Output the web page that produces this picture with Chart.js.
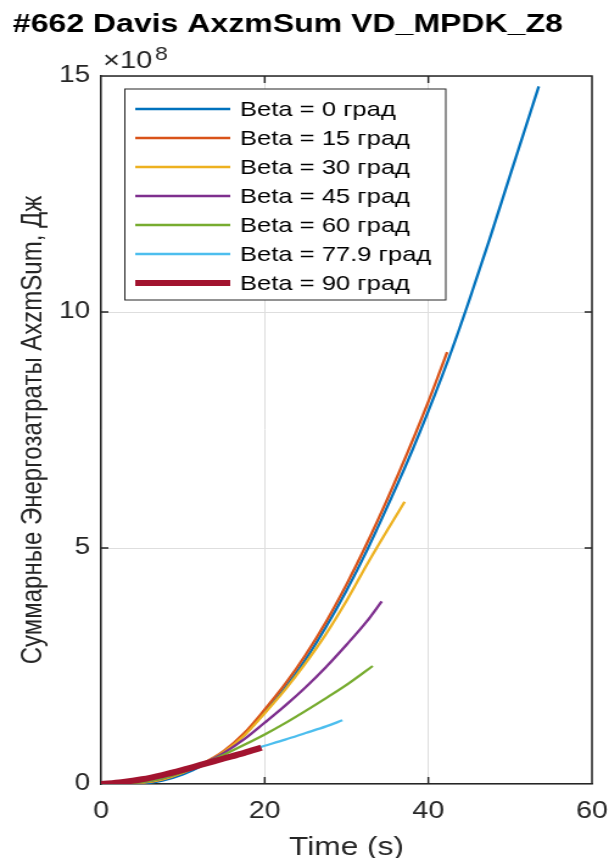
<!DOCTYPE html>
<html>
<head>
<meta charset="utf-8">
<script src="https://cdn.jsdelivr.net/npm/chart.js@4/dist/chart.umd.min.js"></script>
<style>
  html, body { margin: 0; padding: 0; background: #fff; }
</style>
</head>
<body>
<!-- the source picture is stretched sideways, so the canvas is drawn narrower and shown at 609px -->
<canvas id="chart" width="500" height="858" style="display:block;width:609px;height:858px"></canvas>
<script>
// energy in units of 1e8 J, time in s
var labels = ['Beta = 0 град', 'Beta = 15 град', 'Beta = 30 град', 'Beta = 45 град', 'Beta = 60 град', 'Beta = 77.9 град', 'Beta = 90 град'];

var t0 = [0, 2.5, 5, 7.5, 10, 12.5, 15, 17.5, 20, 22.5, 25, 27.5, 30, 32.5, 35, 37.5, 40, 42.5, 45, 47.5, 50, 53.5];
var e0 = [0, 0.00, 0.01, 0.07, 0.2, 0.4, 0.66, 1.04, 1.52, 2.04, 2.64, 3.33, 4.1, 4.95, 5.88, 6.85, 7.9, 9.02, 10.25, 11.55, 12.9, 14.78];

var t15 = [0, 2.5, 5, 7.5, 10, 12.5, 15, 17.5, 20, 22.5, 25, 27.5, 30, 32.5, 35, 37.5, 40, 42.3];
var e15 = [0, 0.01, 0.03, 0.1, 0.24, 0.44, 0.7, 1.08, 1.58, 2.12, 2.74, 3.44, 4.23, 5.1, 6.04, 7.04, 8.1, 9.15];

var t30 = [0, 2.5, 5, 7.5, 10, 12.5, 15, 17.5, 20, 22.5, 25, 27.5, 30, 32.5, 35, 37.1];
var e30 = [0, 0.01, 0.03, 0.1, 0.24, 0.44, 0.68, 1.03, 1.5, 2.0, 2.56, 3.18, 3.88, 4.65, 5.38, 5.98];

var t45 = [0, 2.5, 5, 7.5, 10, 12.5, 15, 17.5, 20, 22.5, 25, 27.5, 30, 32.5, 34.3];
var e45 = [0, 0.01, 0.04, 0.12, 0.26, 0.44, 0.66, 0.95, 1.3, 1.66, 2.05, 2.48, 2.95, 3.45, 3.87];

var t60 = [0, 2.5, 5, 7.5, 10, 12.5, 15, 17.5, 20, 22.5, 25, 27.5, 30, 33.2];
var e60 = [0, 0.01, 0.04, 0.12, 0.25, 0.42, 0.62, 0.83, 1.05, 1.29, 1.55, 1.82, 2.1, 2.5];

var t78 = [0, 2.5, 5, 7.5, 10, 12.5, 15, 17.5, 20, 22.5, 25, 27.5, 29.5];
var e78 = [0, 0.02, 0.07, 0.15, 0.27, 0.41, 0.55, 0.68, 0.81, 0.94, 1.08, 1.22, 1.35];

var t90 = [0, 2.5, 5, 7.5, 10, 12.5, 15, 17.5, 19.6];
var e90 = [0, 0.04, 0.1, 0.19, 0.3, 0.42, 0.54, 0.66, 0.77];

var xTicks = [0, 20, 40, 60];
var yTicks = [0, 5, 10, 15];

var colors = ['#0072BD', '#D95319', '#EDB120', '#7E2F8E', '#77AC30', '#4DBEEE', '#A2142F'];
var FONT = '"Liberation Sans", Arial, sans-serif';
var INK = '#262626';

function pts(t, e) {
  return t.map(function(v, i) { return { x: v, y: e[i] }; });
}

var series = [[t0, e0], [t15, e15], [t30, e30], [t45, e45], [t60, e60], [t78, e78], [t90, e90]];
var datasets = series.map(function(s, i) {
  return {
    label: labels[i],
    data: pts(s[0], s[1]),
    borderColor: colors[i],
    borderWidth: i === 6 ? 6 : 2.3,
    pointRadius: 0,
    cubicInterpolationMode: 'monotone',
    order: 6 - i // later series on top, like matlab
  };
});

var decor = {
  id: 'decor',
  afterDraw: function(chart) {
    var ctx = chart.ctx, a = chart.chartArea;
    var sx = chart.scales.x, sy = chart.scales.y;
    ctx.save();

    // box top/right + inner ticks
    ctx.strokeStyle = INK;
    ctx.lineWidth = 1.5;
    ctx.beginPath();
    ctx.moveTo(a.left, a.top); ctx.lineTo(a.right, a.top); ctx.lineTo(a.right, a.bottom);
    xTicks.slice(1, -1).forEach(function(v) {
      var px = sx.getPixelForValue(v);
      ctx.moveTo(px, a.bottom); ctx.lineTo(px, a.bottom - 7);
      ctx.moveTo(px, a.top); ctx.lineTo(px, a.top + 7);
    });
    yTicks.slice(1, -1).forEach(function(v) {
      var py = sy.getPixelForValue(v);
      ctx.moveTo(a.left, py); ctx.lineTo(a.left + 6, py);
      ctx.moveTo(a.right, py); ctx.lineTo(a.right - 6, py);
    });
    ctx.stroke();

    // legend
    var lx = 102.5, ly = 89, lw = 263.5, lh = 211, row = 29;
    ctx.fillStyle = '#fff';
    ctx.fillRect(lx, ly, lw, lh);
    ctx.lineWidth = 1;
    ctx.strokeStyle = INK;
    ctx.strokeRect(lx, ly, lw, lh);
    ctx.font = '21px ' + FONT;
    ctx.textBaseline = 'middle';
    ctx.textAlign = 'left';
    chart.data.datasets.forEach(function(ds, i) {
      var cy = 109 + i * row;
      ctx.strokeStyle = ds.borderColor;
      ctx.lineWidth = ds.borderWidth;
      ctx.beginPath();
      ctx.moveTo(111, cy); ctx.lineTo(189, cy);
      ctx.stroke();
      ctx.fillStyle = '#000';
      ctx.fillText(ds.label, 197, cy + 1);
    });

    // title
    ctx.textBaseline = 'alphabetic';
    ctx.fillStyle = '#000';
    ctx.font = 'bold 26.3px ' + FONT;
    ctx.fillText('#662 Davis AxzmSum VD_MPDK_Z8', 10.5, 32);

    // exponent
    ctx.fillStyle = INK;
    ctx.font = '24px ' + FONT;
    ctx.fillText('\u00d710', 84.5, 68);
    var w = ctx.measureText('\u00d710').width;
    ctx.font = '19px ' + FONT;
    ctx.fillText('8', 84.5 + w + 2, 60);

    // axis titles
    ctx.font = '26px ' + FONT;
    ctx.textAlign = 'center';
    ctx.fillText('Time (s)', (a.left + a.right) / 2, 855);
    ctx.translate(34, (a.top + a.bottom) / 2);
    ctx.rotate(-Math.PI / 2);
    ctx.font = '24px ' + FONT;
    ctx.fillText('Суммарные Энергозатраты AxzmSum, Дж', 0, 0);
    ctx.restore();
  }
};

var ctx = document.getElementById('chart').getContext('2d');
var chart = new Chart(ctx, {
  type: 'line',
  data: { datasets: datasets },
  plugins: [decor],
  options: {
    responsive: false,
    devicePixelRatio: 1,
    animation: false,
    layout: { padding: { top: 76, right: 14, left: 0, bottom: 0 } },
    plugins: { legend: { display: false }, tooltip: { enabled: false } },
    scales: {
      x: {
        type: 'linear', min: 0, max: 60,
        afterBuildTicks: function(s) { s.ticks = xTicks.map(function(v) { return { value: v }; }); },
        afterFit: function(s) { s.height = 74; s.paddingLeft = 0; s.paddingRight = 0; },
        ticks: { color: INK, font: { family: FONT, size: 23.5 }, padding: 13, maxRotation: 0 },
        grid: { color: '#dedede', drawTicks: false },
        border: { color: INK, width: 1.5 }
      },
      y: {
        type: 'linear', min: 0, max: 15,
        afterBuildTicks: function(s) { s.ticks = yTicks.map(function(v) { return { value: v }; }); },
        afterFit: function(s) { s.width = 83; s.paddingTop = 0; s.paddingBottom = 0; },
        ticks: { color: INK, font: { family: FONT, size: 23 }, padding: 9 },
        grid: { color: '#dedede', drawTicks: false },
        border: { color: INK, width: 1.5 }
      }
    }
  }
});
</script>
</body>
</html>
